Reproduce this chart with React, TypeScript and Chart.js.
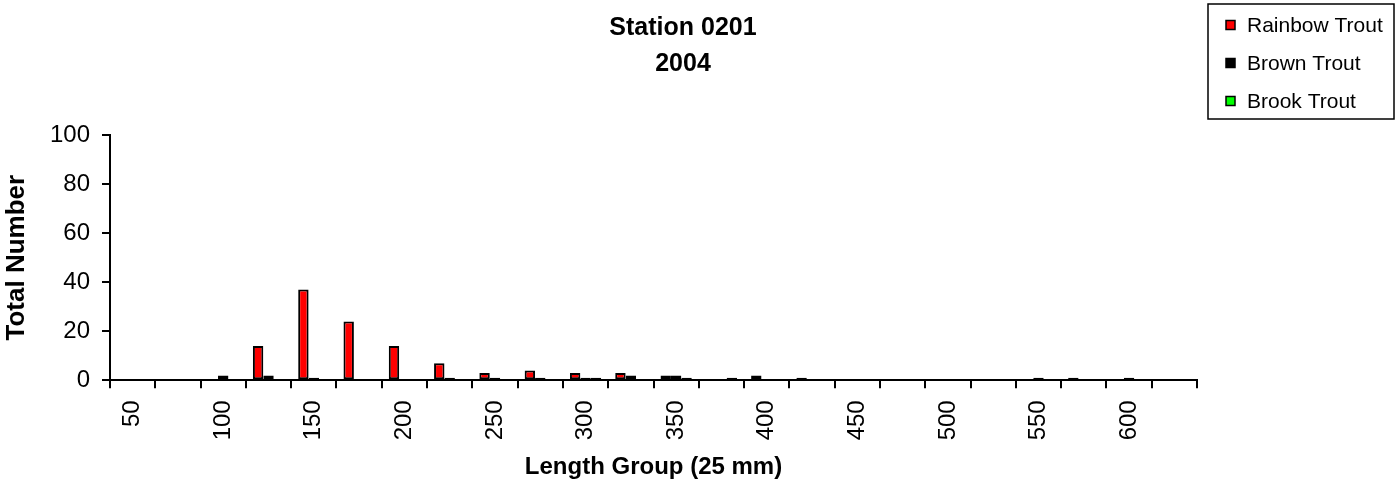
import React, { useEffect, useRef } from 'react';
import { Chart, registerables } from 'chart.js';

Chart.register(...registerables);

// ---- data ----
const lengthGroups = [50, 75, 100, 125, 150, 175, 200, 225, 250, 275, 300, 325, 350, 375, 400, 425, 450, 475, 500, 525, 550, 575, 600, 625];
const xTickLabels = ['50', '', '100', '', '150', '', '200', '', '250', '', '300', '', '350', '', '400', '', '450', '', '500', '', '550', '', '600', ''];
const rainbowTrout = [0, 0, 0, 14, 37, 24, 14, 7, 3, 4, 3, 3, 2, 0, 2, 1, 0, 0, 0, 0, 0, 1, 0, 0];
const brownTrout = [0, 0, 2, 2, 1, 0, 0, 1, 1, 1, 1, 2, 2, 0, 0, 0, 0, 0, 0, 0, 1, 0, 1, 0];
const brookTrout = [0, 0, 0, 0, 0, 0, 0, 0, 0, 0, 1, 0, 1, 1, 0, 0, 0, 0, 0, 0, 0, 0, 0, 0];
const seriesNames = ['Rainbow Trout', 'Brown Trout', 'Brook Trout'];
const seriesColors = ['#FF0000', '#000000', '#00FF00'];
const yTicks = [0, 20, 40, 60, 80, 100];
const titleLines = ['Station 0201', '2004'];
const xTitle = 'Length Group (25 mm)';
const yTitle = 'Total Number';

const FONT = "'Liberation Sans', Arial, Helvetica, sans-serif";

const boxLegend = {
  id: 'boxLegend',
  afterDraw(chart: any) {
    const ctx = chart.ctx;
    const left = 1208;
    const top = 4;
    const right = 1394;
    const bottom = 119;
    ctx.save();
    ctx.strokeStyle = '#000';
    ctx.lineWidth = 1.5;
    ctx.strokeRect(left, top, right - left, bottom - top);
    ctx.font = `21px ${FONT}`;
    ctx.textBaseline = 'middle';
    ctx.textAlign = 'left';
    chart.data.datasets.forEach((ds: any, i: number) => {
      const cy = 25 + i * 38;
      ctx.fillStyle = ds.backgroundColor;
      ctx.fillRect(1226, cy - 4.5, 9, 9);
      ctx.lineWidth = 1.5;
      ctx.strokeStyle = '#000';
      ctx.strokeRect(1226, cy - 4.5, 9, 9);
      ctx.fillStyle = '#000';
      ctx.fillText(ds.label, 1247, cy + 1);
    });
    ctx.restore();
  },
};

export default function App() {
  const ref = useRef<HTMLCanvasElement | null>(null);

  useEffect(() => {
    if (!ref.current) return;
    const seriesData = [rainbowTrout, brownTrout, brookTrout];
    const chart = new Chart(ref.current, {
      type: 'bar',
      data: {
        labels: lengthGroups.map(String),
        datasets: seriesData.map((d, i) => ({
          label: seriesNames[i],
          data: d,
          backgroundColor: seriesColors[i],
          borderColor: '#000000',
          borderWidth: 2,
          borderSkipped: false,
          categoryPercentage: 0.69,
          barPercentage: 1.0,
          xAxisID: 'x',
          yAxisID: 'y',
        })),
      },
      options: {
        responsive: false,
        animation: false,
        events: [],
        layout: { padding: { left: 0, right: 32, top: 0, bottom: 0 } },
        plugins: {
          legend: { display: false },
          tooltip: { enabled: false },
          title: {
            display: true,
            text: titleLines,
            color: '#000',
            font: { family: FONT, size: 25, weight: 'bold', lineHeight: 1.44 },
            padding: { top: 10, bottom: 53 },
          },
        },
        scales: {
          x: {
            type: 'category',
            offset: true,
            grid: {
              offset: true,
              drawOnChartArea: false,
              drawTicks: true,
              tickLength: 8,
              color: '#000',
              lineWidth: 2,
            },
            border: { display: true, color: '#000', width: 2 },
            ticks: {
              autoSkip: false,
              minRotation: 90,
              maxRotation: 90,
              padding: 12,
              color: '#000',
              font: { family: FONT, size: 24 },
              callback: (_v: any, i: number) => xTickLabels[i],
            },
            title: {
              display: true,
              text: xTitle,
              color: '#000',
              font: { family: FONT, size: 24, weight: 'bold' },
              padding: { top: 0, bottom: 0 },
            },
            afterFit: (s: any) => {
              s.height = 101.7;
            },
          },
          y: {
            type: 'linear',
            position: 'left',
            min: 0,
            max: 100,
            grid: {
              drawOnChartArea: false,
              drawTicks: true,
              tickLength: 8,
              color: '#000',
              lineWidth: 2,
            },
            border: { display: true, color: '#000', width: 2 },
            ticks: {
              padding: 12,
              color: '#000',
              font: { family: FONT, size: 24 },
            },
            afterBuildTicks: (s: any) => {
              s.ticks = yTicks.map((v) => ({ value: v }));
            },
            title: {
              display: true,
              text: yTitle,
              color: '#000',
              font: { family: FONT, size: 26, weight: 'bold' },
              padding: { top: 1, bottom: 0 },
            },
            afterFit: (s: any) => {
              s.width = 110;
            },
          },
          yR: {
            type: 'linear',
            position: 'right',
            display: true,
            grid: { display: false, drawTicks: false },
            border: { display: false },
            ticks: { display: false },
            afterFit: (s: any) => {
              s.width = 169;
            },
          },
        },
      } as any,
      plugins: [boxLegend],
    });
    return () => chart.destroy();
  }, []);

  return (
    <div style={{ position: 'absolute', left: 0, top: 0, width: 1398, height: 482, background: '#fff' }}>
      <canvas ref={ref} width={1398} height={482} style={{ display: 'block' }} />
    </div>
  );
}
